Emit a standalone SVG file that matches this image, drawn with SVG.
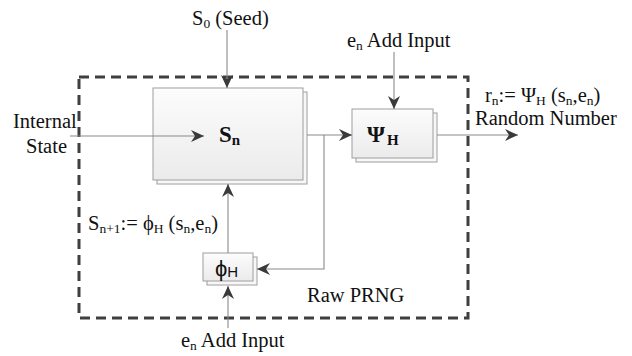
<svg xmlns="http://www.w3.org/2000/svg" width="632" height="356" viewBox="0 0 632 356">
<style>
text{font-family:"Liberation Serif","Times New Roman",serif;font-size:20.5px;fill:#111}
.sub{font-size:13.5px}
.box{fill:url(#g);stroke:#9e9e9e;stroke-width:1}
.shadow{fill:#f7f7f7;stroke:#9e9e9e;stroke-width:1}
.conn{fill:none;stroke:#8a8a8a;stroke-width:1.1}
.frame{fill:none;stroke:#3f3f3f;stroke-width:3;stroke-dasharray:10 6}
.b{font-weight:bold}
.big{font-size:23px}
.bsub{font-size:15px}
</style>
<defs>
<linearGradient id="g" x1="0" y1="0" x2="0" y2="1">
<stop offset="0" stop-color="#fcfcfc"/>
<stop offset="1" stop-color="#ebebeb"/>
</linearGradient>
<marker id="ah" markerUnits="userSpaceOnUse" markerWidth="14" markerHeight="12" viewBox="0 0 14 12" refX="13" refY="6" orient="auto">
<path d="M0,0 L13,6 L0,12 L4,6 z" fill="#3a3a3a"/>
</marker>
</defs>
<rect class="frame" x="79" y="77" width="389" height="241"/>
<g id="node-sn">
<rect class="shadow" x="157" y="92" width="150" height="92"/>
<rect class="box" x="153" y="88" width="150" height="92"/>
<text x="219" y="142" class="b big">S<tspan class="bsub b" dy="3">n</tspan></text>
</g>
<g id="node-psi">
<rect class="shadow" x="356" y="113" width="81" height="49"/>
<rect class="box" x="352" y="109" width="81" height="49"/>
<text x="367" y="142" class="b big">Ψ<tspan class="bsub b" dy="3" dx="2">H</tspan></text>
</g>
<g id="node-phi">
<rect class="shadow" x="207" y="257" width="50" height="28"/>
<rect class="box" x="203" y="253" width="50" height="28"/>
<text x="215" y="276" style="font-family:'Liberation Sans','DejaVu Sans',sans-serif;font-size:22px">ϕ<tspan style="font-size:15px" dy="1">H</tspan></text>
</g>
<g id="connectors">
<line class="conn" x1="227" y1="30" x2="227" y2="88" marker-end="url(#ah)"/>
<line class="conn" x1="70" y1="136" x2="204" y2="136" marker-end="url(#ah)"/>
<line class="conn" x1="307" y1="135" x2="352" y2="135" marker-end="url(#ah)"/>
<polyline class="conn" points="324,135 324,269 257,269" marker-end="url(#ah)"/>
<line class="conn" x1="394" y1="52" x2="394" y2="109" marker-end="url(#ah)"/>
<line class="conn" x1="437" y1="135" x2="518" y2="135" marker-end="url(#ah)"/>
<line class="conn" x1="228" y1="253" x2="228" y2="184" marker-end="url(#ah)"/>
<line class="conn" x1="228" y1="328" x2="228" y2="286" marker-end="url(#ah)"/>
</g>
<g id="labels">
<text x="192" y="25">S<tspan class="sub" dy="3">0</tspan><tspan dy="-3"> (Seed)</tspan></text>
<text x="347" y="47">e<tspan class="sub" dy="3">n</tspan><tspan dy="-3"> Add Input</tspan></text>
<text x="181" y="347">e<tspan class="sub" dy="3">n</tspan><tspan dy="-3"> Add Input</tspan></text>
<text x="485" y="102">r<tspan class="sub" dy="2.5">n</tspan><tspan dy="-2.5">:= Ψ</tspan><tspan class="sub" dy="2.5">H</tspan><tspan dy="-2.5"> (s</tspan><tspan class="sub" dy="2.5">n</tspan><tspan dy="-2.5">,e</tspan><tspan class="sub" dy="2.5">n</tspan><tspan dy="-2.5">)</tspan></text>
<text x="475" y="125">Random Number</text>
<text x="13" y="128">Internal</text>
<text x="26" y="153">State</text>
<text x="88" y="230">S<tspan class="sub" dy="3">n+1</tspan><tspan dy="-3">:= ϕ</tspan><tspan class="sub" dy="3">H</tspan><tspan dy="-3"> (s</tspan><tspan class="sub" dy="3">n</tspan><tspan dy="-3">,e</tspan><tspan class="sub" dy="3">n</tspan><tspan dy="-3">)</tspan></text>
<text x="307" y="302">Raw PRNG</text>
</g>
</svg>
